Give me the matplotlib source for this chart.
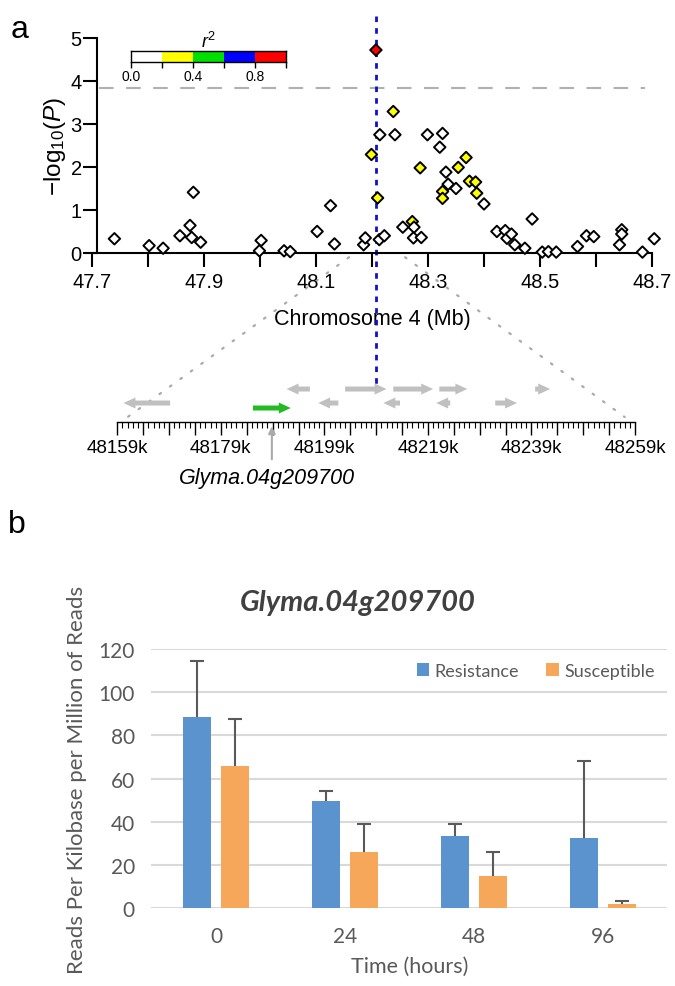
import numpy as np
import matplotlib
matplotlib.use('Agg')
from matplotlib import pyplot as plt
from matplotlib.colors import ListedColormap, BoundaryNorm
from matplotlib.patches import FancyArrow, ConnectionPatch

plt.rcParams['font.family'] = ['Liberation Sans', 'DejaVu Sans']
plt.rcParams['mathtext.fontset'] = 'custom'
plt.rcParams['mathtext.rm'] = 'Liberation Sans'
plt.rcParams['mathtext.it'] = 'Liberation Sans:italic'

##### panel a data (Mb, -log10 P, r2)
snp_pos = [47.740, 47.802, 47.827, 47.881, 47.875, 47.857, 47.878, 47.894, 48.002, 47.999,
           48.043, 48.054, 48.102, 48.126, 48.133, 48.214, 48.241, 48.299, 48.326, 48.321,
           48.332, 48.336, 48.350, 48.400, 48.185, 48.188, 48.213, 48.222, 48.255, 48.275,
           48.274, 48.288, 48.423, 48.438, 48.441, 48.449, 48.455, 48.473, 48.486, 48.504,
           48.515, 48.529, 48.567, 48.583, 48.596, 48.646, 48.646, 48.642, 48.683, 48.704,
           48.238, 48.199, 48.286, 48.210, 48.368, 48.354, 48.326, 48.326, 48.374, 48.385,
           48.387, 48.272, 48.207]
snp_logp = [0.33, 0.17, 0.11, 1.41, 0.64, 0.40, 0.36, 0.25, 0.29, 0.05,
            0.05, 0.03, 0.50, 1.10, 0.21, 2.75, 2.75, 2.75, 2.78, 2.46,
            1.88, 1.60, 1.50, 1.14, 0.19, 0.35, 0.31, 0.40, 0.60, 0.60,
            0.35, 0.36, 0.50, 0.52, 0.34, 0.44, 0.19, 0.11, 0.79, 0.02,
            0.03, 0.02, 0.15, 0.40, 0.38, 0.54, 0.44, 0.19, 0.02, 0.33,
            3.29, 2.29, 1.98, 1.28, 2.22, 1.99, 1.43, 1.27, 1.67, 1.65,
            1.39, 0.73, 4.72]
snp_r2 = [0.1] * 50 + [0.3] * 12 + [0.9]
threshold = 3.84
lead_snp = 48.207

r2_bounds = [0.0, 0.2, 0.4, 0.6, 0.8, 1.0]
r2_colors = ['white', '#ffff00', '#00e000', '#0000ff', '#ff0000']
x_ticks = [47.7, 47.8, 47.9, 48.0, 48.1, 48.2, 48.3, 48.4, 48.5, 48.6, 48.7]

# gene track (kb): start -> end gives direction
gene_start = [48196.2, 48203.0, 48212.3, 48221.2, 48239.7,
              48169.2, 48201.7, 48213.6, 48223.3, 48232.0]
gene_end = [48191.7, 48211.0, 48220.0, 48226.6, 48242.6,
            48160.2, 48197.8, 48210.4, 48220.6, 48236.2]
gene_row = [33, 33, 33, 33, 33, 19, 19, 19, 19, 19]
target_gene = (48185.2, 48192.5)
target_name = 'Glyma.04g209700'

##### panel b data
hours = ['0', '24', '48', '96']
resist = [88.5, 49.5, 33.5, 32.5]
resist_err = [26.0, 4.5, 5.5, 35.5]
suscep = [66.0, 25.8, 15.0, 2.0]
suscep_err = [21.5, 13.0, 11.0, 1.3]


fig = plt.figure(figsize=(6.75, 9.87), dpi=100)

# ---- manhattan zoom
ax = fig.add_axes([0.1363, 0.7427, 0.8296, 0.2178])
ax.set_facecolor('none')
cmap = ListedColormap(r2_colors)
norm = BoundaryNorm(r2_bounds, cmap.N)
# yellow first so white points sit on top like the original
draw = [i for i in range(len(snp_r2)) if snp_r2[i] == 0.3] + \
       [i for i in range(len(snp_r2)) if snp_r2[i] == 0.1] + \
       [i for i in range(len(snp_r2)) if snp_r2[i] == 0.9]
ax.scatter(np.array(snp_pos)[draw], np.array(snp_logp)[draw], c=np.array(snp_r2)[draw],
           cmap=cmap, norm=norm, marker='D', s=34, edgecolors='black', linewidths=1.4,
           zorder=3, clip_on=False)
ax.set_xlim(47.7, 48.7)
ax.set_ylim(0, 5)
ax.plot([47.712, 48.688], [threshold, threshold], color='#b0b0b0', lw=1.5,
        dashes=(7, 6), zorder=1)
ax.plot([lead_snp, lead_snp], [5.52, -3.05], color='#1010c8', lw=2.0,
        dashes=(2, 2.2), clip_on=False, zorder=2)
for s in ['top', 'right']:
    ax.spines[s].set_visible(False)
ax.spines['left'].set_position(('data', 47.709))
ax.spines['left'].set_linewidth(1.5)
ax.spines['bottom'].set_linewidth(1.5)
ax.spines['bottom'].set_bounds(47.7, 48.7)
ax.set_xticks(x_ticks)
ax.set_xticklabels(['%.1f' % v if i % 2 == 0 else '' for i, v in enumerate(x_ticks)])
ax.set_yticks([0, 1, 2, 3, 4, 5])
ax.tick_params(axis='both', labelsize=14.5, width=1.5, length=10, pad=4)
ax.tick_params(axis='y', pad=1)
ax.set_xlabel('Chromosome 4 (Mb)', fontsize=15.5, labelpad=12)
ax.set_ylabel(r'$\mathrm{-log_{10}(}P\mathrm{)}$', fontsize=17.5, labelpad=2)
fig.text(0.015, 0.985, 'a', fontsize=23, va='top', ha='left')

# r2 colour key
cax = fig.add_axes([0.194, 0.9362, 0.2296, 0.0112])
for k in range(len(r2_colors)):
    cax.barh(0, r2_bounds[k + 1] - r2_bounds[k], left=r2_bounds[k], height=1,
             color=r2_colors[k], edgecolor='none')
cax.set_xlim(0, 1)
cax.set_ylim(-0.5, 0.5)
cax.set_yticks([])
cax.set_xticks(r2_bounds)
cax.set_xticklabels(['0.0', '', '0.4', '', '0.8', ''])
cax.tick_params(axis='x', labelsize=10, length=4, width=1, pad=1)
for s in cax.spines.values():
    s.set_linewidth(1)
cax.set_title(r'$r^2$', fontsize=13, pad=1)

# ---- gene track
gx = fig.add_axes([0.1738, 0.5714, 0.767, 0.0537])
gx.set_facecolor('none')
gx.set_xlim(48159, 48259)
gx.set_ylim(0, 53)
for s in ['top', 'right', 'left']:
    gx.spines[s].set_visible(False)
gx.spines['bottom'].set_linewidth(1)
gx.set_yticks([])
gx.set_xticks(np.arange(48159, 48260, 5))
gx.set_xticklabels(['%dk' % v if (v - 48159) % 20 == 0 else '' for v in range(48159, 48260, 5)])
gx.set_xticks(np.arange(48159, 48260, 1), minor=True)
gx.tick_params(axis='x', which='major', length=9, width=1, labelsize=13.5, pad=3)
gx.tick_params(axis='x', which='minor', length=4.5, width=0.8)
for a, b, r in zip(gene_start, gene_end, gene_row):
    gx.add_patch(FancyArrow(a, r, b - a, 0, width=5, head_width=11, head_length=2.3,
                            length_includes_head=True, color='#c0c0c0', lw=0))
gx.add_patch(FancyArrow(target_gene[0], 14, target_gene[1] - target_gene[0], 0, width=5,
                        head_width=11, head_length=2.3, length_includes_head=True,
                        color='#22bb22', lw=0))
mid = (target_gene[0] + target_gene[1]) / 2
gx.annotate('', xy=(mid, -1.5), xytext=(mid, -40), annotation_clip=False,
            arrowprops=dict(arrowstyle='-|>', color='#aaaaaa', lw=1.5, mutation_scale=10))
gx.text(mid - 1, -55, target_name, fontsize=15.5, style='italic', ha='center', va='center',
        clip_on=False)

# dotted zoom lines from the chromosome axis to the gene track
for top_x, low_x in [(48.159, 48161), (48.259, 48257)]:
    con = ConnectionPatch(xyA=(top_x, -0.1), coordsA=ax.transData,
                          xyB=(low_x, 5), coordsB=gx.transData,
                          color='#aaaaaa', lw=1.6, linestyle=(0, (0.8, 5)), zorder=0)
    fig.add_artist(con)

# ---- panel b
fig.text(0.012, 0.468, 'b', fontsize=23, va='center', ha='left')
bx = fig.add_axes([0.2244, 0.079, 0.7644, 0.2624])
x = np.arange(len(hours))
bw = 0.215
off = 0.148
bx.bar(x - off, resist, bw, color='#5b93ce', zorder=2, label='Resistance')
bx.bar(x + off, suscep, bw, color='#f6a75a', zorder=2, label='Susceptible')
# upper-only error bars, no cap on the bar top
for xs, vals, errs in [(x - off, resist, resist_err), (x + off, suscep, suscep_err)]:
    tops = np.array(vals) + np.array(errs)
    bx.vlines(xs, vals, tops, color='#5a5a5a', lw=1.5, zorder=3)
    bx.plot(xs, tops, linestyle='none', marker='_', ms=10, mew=1.5, color='#5a5a5a', zorder=3)
bx.set_xlim(-0.5, 3.5)
bx.set_ylim(0, 120)
bx.set_yticks(np.arange(0, 121, 20))
bx.set_xticks(x)
bx.set_xticklabels(hours)
bx.yaxis.grid(True, color='#d9d9d9', lw=1.5, zorder=0)
bx.set_axisbelow(True)
for s in bx.spines.values():
    s.set_visible(False)
tfont = ['Lato', 'DejaVu Sans']
bx.tick_params(axis='both', length=0, labelsize=15, colors='#595959')
bx.tick_params(axis='y', pad=12)
bx.tick_params(axis='x', pad=13)
for lab in bx.get_xticklabels() + bx.get_yticklabels():
    lab.set_family(tfont)
bx.set_xlabel('Time (hours)', fontsize=15.5, color='#595959', family=tfont, labelpad=7)
bx.set_ylabel('Reads Per Kilobase per Million of Reads', fontsize=16, color='#595959',
              family=tfont, labelpad=8)
bx.set_title(target_name, fontsize=21, fontweight='bold', style='italic', color='#404040',
             family=tfont, pad=28, x=0.4)
leg = bx.legend(loc='center', bbox_to_anchor=(0.745, 0.915), ncol=2, frameon=False,
                handlelength=0.7, handleheight=0.7, handletextpad=0.3, columnspacing=1.5,
                prop={'family': tfont, 'size': 13})
for t in leg.get_texts():
    t.set_color('#595959')

fig.savefig('out.png', dpi=100)
